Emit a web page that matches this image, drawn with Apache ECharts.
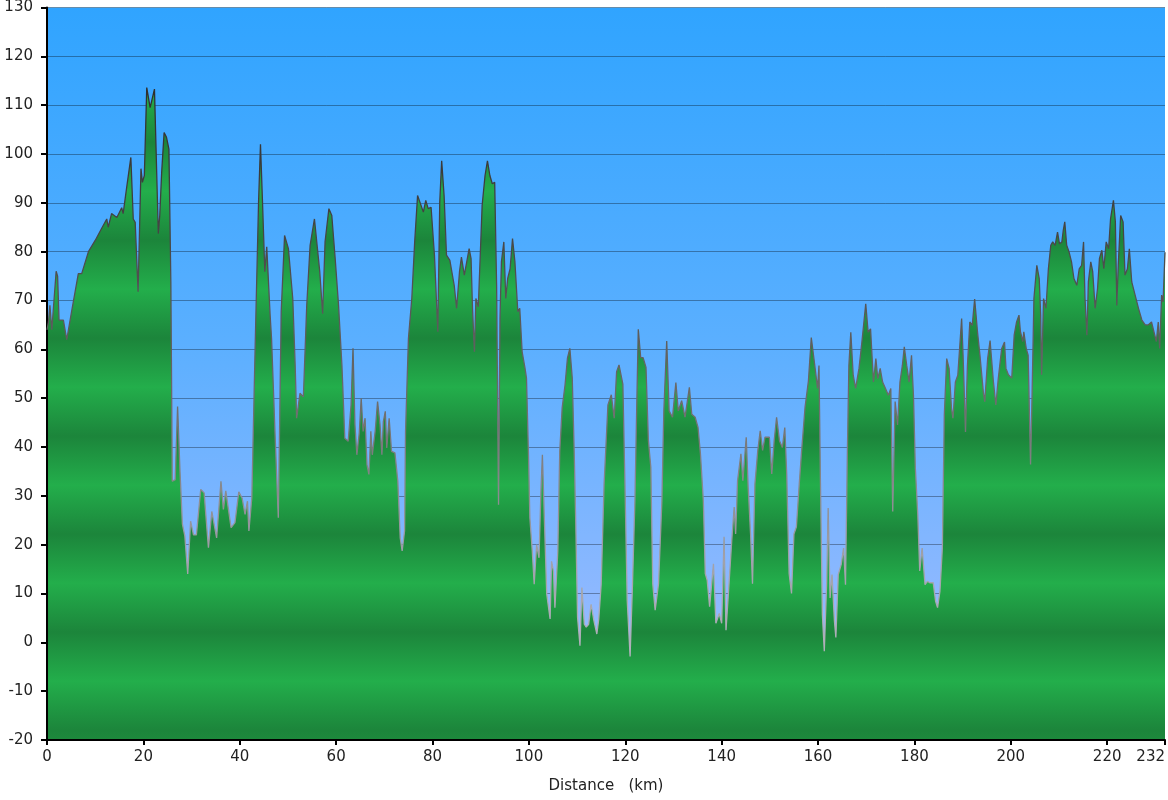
<!DOCTYPE html>
<html>
<head>
<meta charset="utf-8">
<title>Elevation profile</title>
<script src="https://cdn.jsdelivr.net/npm/echarts@6/dist/echarts.min.js"></script>
<style>
    html, body { margin: 0; padding: 0; background: #fff; }
</style>
</head>
<body>
<div id="main" style="width:1168px;height:800px;"></div>
<script>
// distance along the route (km)
var distanceKm = [
    0, 0.3, 0.6, 1.0, 1.9, 2.2, 2.5, 3.4, 4.1, 5.1, 6.5, 7.2, 8.6, 10.0, 11.3, 12.4, 12.7, 13.4, 14.5, 15.5,
    15.8, 16.5, 16.9, 17.4, 17.9, 18.3, 18.9, 19.5, 19.8, 20.2, 20.7, 21.4, 22.3, 22.6, 23.1, 23.4, 23.8, 24.3, 24.8, 25.3,
    25.7, 26.0, 26.6, 27.1, 27.6, 28.1, 28.6, 29.2, 29.8, 30.4, 31.0, 31.9, 32.6, 33.5, 34.2, 35.2, 36.1, 36.6, 37.1, 38.2,
    39.0, 39.8, 40.5, 41.1, 41.6, 41.9, 42.5, 43.2, 43.9, 44.3, 44.7, 45.2, 45.6, 45.9, 46.3, 46.6, 47.3, 48.0, 48.6, 49.3,
    50.1, 51.0, 51.5, 51.8, 52.5, 53.2, 53.9, 54.6, 55.5, 55.9, 56.6, 57.2, 57.7, 58.5, 59.1, 59.8, 60.5, 61.2, 61.8, 62.5,
    63.1, 63.5, 63.9, 64.3, 64.8, 65.2, 65.6, 66.0, 66.4, 66.8, 67.2, 67.5, 68.1, 68.6, 69.1, 69.5, 69.8, 70.2, 70.5, 71.0,
    71.5, 72.2, 72.8, 73.3, 73.7, 74.2, 74.4, 75.0, 75.7, 76.3, 76.9, 77.4, 78.1, 78.6, 79.1, 79.7, 80.4, 81.1, 81.5, 81.9,
    82.4, 82.9, 83.6, 84.5, 85.0, 85.6, 86.0, 86.6, 87.1, 87.6, 88.0, 88.3, 88.7, 89.0, 89.5, 89.9, 90.3, 90.9, 91.4, 91.9,
    92.4, 92.9, 93.3, 93.7, 94.0, 94.3, 94.8, 95.2, 95.6, 96.1, 96.6, 97.1, 97.7, 98.1, 98.6, 99.2, 99.5, 99.9, 100.2, 100.7,
    101.1, 101.6, 102.1, 102.5, 102.8, 103.2, 103.7, 104.4, 104.7, 105.1, 105.4, 106.0, 106.4, 106.9, 107.5, 108.0, 108.5, 109.0, 109.4, 109.7,
    110.1, 110.6, 111.0, 111.5, 111.9, 112.4, 112.9, 113.5, 114.1, 114.5, 115.0, 115.6, 116.1, 116.4, 117.1, 117.7, 118.2, 118.7, 119.5, 120.0,
    120.4, 121.0, 121.5, 122.0, 122.4, 122.7, 123.2, 123.7, 124.3, 124.8, 125.3, 125.7, 126.2, 126.9, 127.6, 128.0, 128.6, 129.1, 129.8, 130.5,
    131.0, 131.7, 132.4, 133.3, 133.8, 134.5, 135.1, 135.6, 136.2, 136.6, 137.0, 137.5, 138.3, 138.8, 139.5, 140.0, 140.5, 140.9, 141.4, 142.1,
    142.6, 142.9, 143.3, 144.0, 144.4, 145.1, 145.5, 146.0, 146.4, 146.9, 147.5, 148.0, 148.5, 149.0, 149.9, 150.4, 150.9, 151.4, 152.0, 152.6,
    153.1, 153.5, 154.0, 154.5, 155.0, 155.5, 156.1, 156.6, 157.3, 158.0, 158.6, 159.3, 159.9, 160.2, 160.5, 160.9, 161.3, 161.8, 162.1, 162.5,
    162.9, 163.4, 163.7, 164.2, 164.8, 165.3, 165.7, 166.1, 166.4, 166.8, 167.3, 167.8, 168.5, 169.1, 169.9, 170.4, 170.9, 171.5, 172.0, 172.4,
    172.9, 173.4, 174.0, 174.6, 175.1, 175.5, 176.0, 176.5, 177.0, 177.5, 177.9, 178.4, 178.9, 179.4, 179.8, 180.2, 180.7, 181.1, 181.6, 182.2,
    182.7, 183.2, 183.9, 184.4, 184.8, 185.3, 185.8, 186.2, 186.7, 187.2, 187.7, 188.0, 188.5, 189.0, 189.8, 190.1, 190.6, 191.0, 191.5, 192.0,
    192.5, 193.1, 193.6, 194.3, 194.6, 195.2, 195.7, 196.4, 196.9, 197.4, 198.1, 198.7, 199.0, 199.5, 200.2, 200.7, 201.2, 201.7, 202.0, 202.5,
    202.7, 203.2, 203.6, 204.1, 204.4, 204.8, 205.4, 205.9, 206.2, 206.4, 206.8, 207.3, 207.8, 208.3, 208.7, 209.2, 209.7, 210.1, 210.6, 210.9,
    211.2, 211.6, 212.1, 212.6, 213.1, 213.7, 214.2, 214.7, 215.1, 215.4, 215.8, 216.1, 216.6, 217.0, 217.5, 218.0, 218.4, 218.9, 219.3, 219.8,
    220.3, 220.7, 221.3, 221.7, 222.0, 222.3, 222.8, 223.3, 223.7, 224.2, 224.6, 225.1, 225.8, 226.5, 227.2, 227.9, 228.5, 229.2, 229.7, 230.2,
    230.6, 230.9, 231.3, 231.6, 232.0
];

// elevation (m)
var elevationM = [
    64, 65.6, 69, 64, 76, 75, 66, 66, 62, 67.7, 75.5, 75.5, 80, 82.3, 84.7, 86.7, 85, 87.8, 87, 89,
    87.8, 92.9, 92.9, 99.3, 86.7, 86, 71.8, 97, 94.2, 95.6, 113.6, 109.5, 113.3, 113.3, 83.7, 87.4, 96.3, 104.4, 103.4, 101,
    73.8, 33, 33.3, 48.3, 35, 24.2, 21.8, 14, 24.8, 22, 22, 31.3, 30.6, 19.4, 26.8, 21.4, 33, 27.2, 31, 23.5,
    24.5, 30.8, 29.5, 26.2, 28.9, 22.8, 29.6, 60.9, 90.1, 102, 90.8, 75.9, 81, 80.6, 67, 62.2, 43.2, 25.5, 67.7, 83.3,
    80.6, 70.4, 56.8, 45.9, 51, 50.3, 69, 81.3, 86.7, 86.4, 75.9, 67.3, 82, 88.8, 87.4, 78.6, 69, 56.8, 41.8, 41.2,
    48.6, 60.2, 44.6, 38.4, 42.9, 50, 43.2, 45.9, 36.4, 34.4, 43.2, 38.4, 43.2, 49.3, 44.6, 38.4, 45.2, 47.3, 39.8, 45.9,
    39.1, 38.8, 33, 21.4, 18.7, 22.8, 43.2, 62.2, 70.4, 82, 91.5, 90.1, 88.1, 90.5, 88.8, 89.1, 79.3, 63.6, 90.1, 98.6,
    91.5, 79.3, 78.2, 73.1, 68.4, 75.9, 78.9, 75.2, 77.9, 80.6, 78.6, 68.4, 59.5, 70.4, 68.7, 69, 89.5, 95.6, 98.6, 95.6,
    93.9, 94.2, 73.1, 28.2, 66.3, 77.9, 82, 70.4, 74.5, 76.5, 82.7, 77.9, 67.7, 68.4, 59.5, 56.1, 54.1, 39.1, 25.5, 18.7,
    11.9, 20, 17.3, 31, 38.4, 25.5, 9.9, 4.8, 16.6, 14.6, 7.1, 18.7, 39.1, 48, 52.7, 58.2, 60.2, 54.1, 39.1, 25.5,
    5.1, -0.7, 11.2, 3.7, 3.1, 3.7, 7.8, 4.4, 1.7, 4.8, 11.9, 32.3, 42.5, 48.6, 50.7, 45.9, 55.4, 56.8, 52.9, 29,
    8.6, -2.9, 12, 29, 49.5, 64.1, 58.3, 58.3, 56.3, 41.3, 35.9, 12, 6.6, 12, 29, 47.4, 61.7, 47.4, 46.1, 53.2,
    47.4, 49.5, 46.1, 52.2, 46.7, 46.1, 44, 38.6, 29, 14.1, 12.7, 7.3, 16.1, 3.9, 5.9, 3.9, 21.6, 2.5, 10, 20.9,
    27.7, 22.2, 33.1, 38.6, 33.1, 42, 31.8, 22.2, 12, 32.4, 39.3, 43.3, 39.3, 42, 42, 34.5, 41.3, 46.1, 41.3, 39.9,
    44, 34.5, 14.1, 10, 22.2, 23.6, 32.4, 39.3, 48.1, 53.5, 62.4, 56.9, 52, 56.7, 32.9, 5.7, -1.8, 12.5, 27.5, 9.1,
    13.9, 4.4, 1, 13.9, 15.9, 19.3, 11.8, 39.7, 56.7, 63.5, 54.7, 52, 56.1, 61.5, 69.3, 63.5, 64.2, 53.3, 58.1, 54,
    56.1, 53.3, 52, 50.6, 52, 26.8, 49.3, 44.5, 53.3, 56.7, 60.5, 56.7, 53.3, 58.8, 50.6, 35.6, 26.1, 14.6, 19.3, 11.8,
    12.5, 12.2, 12.2, 8.4, 7.1, 10.5, 19.3, 46.5, 58.1, 56.1, 47.9, 45.9, 53.3, 54.7, 66.3, 58.8, 43.1, 56.7, 65.6, 64.9,
    70.3, 63.5, 58.8, 51.3, 49.3, 58.1, 61.8, 53.3, 48.6, 54, 60.1, 61.5, 56.1, 54.8, 54.1, 62.9, 65.6, 67, 63.6, 61.6,
    63.6, 60.2, 58.8, 36.4, 50, 70.4, 77.2, 74.5, 67, 54.8, 70.4, 68.4, 76.5, 81.3, 82, 81.3, 84, 81.6, 82, 84.4,
    86.1, 81.3, 79.9, 77.9, 74.5, 73.1, 76.5, 77.2, 82, 70.4, 62.9, 73.8, 77.9, 75.9, 68.4, 72.4, 78.6, 80.3, 76.5, 82,
    80.6, 86.7, 90.5, 86.1, 69, 77.2, 87.4, 86.1, 75.2, 76.5, 80.6, 73.8, 71.1, 68.4, 66, 65, 65, 65.6, 63.6, 61.6,
    65.6, 60.2, 71.1, 69.7, 79.9
];

var xMin = 0, xMax = 232, xStep = 20;
var yMin = -20, yMax = 130, yStep = 10;

var points = [];
for (var i = 0; i < distanceKm.length; i++) {
    points.push([distanceKm[i], elevationM[i]]);
}

var gridTop = 5, gridBottom = 60;
var plotTop = gridTop, plotBottom = 800 - gridBottom;

// banded green fill, darker every 20 m
var fillStops = [];
for (var v = yMax; v >= yMin; v -= yStep) {
    var off = (yMax - (v + 2)) / (yMax - yMin);
    if (off < 0) off = 0;
    if (off > 1) off = 1;
    var dark = (((v % 20) + 20) % 20) === 0;
    fillStops.push({ offset: off, color: dark ? '#1c853b' : '#23ae4b' });
}
fillStops.push({ offset: 1, color: '#1d893c' });

var myChart = echarts.init(document.getElementById('main'));
myChart.setOption({
    animation: false,
    backgroundColor: '#fff',
    grid: {
        left: 47,
        right: 3,
        top: gridTop,
        bottom: gridBottom,
        show: true,
        borderWidth: 0,
        backgroundColor: new echarts.graphic.LinearGradient(0, 0, 0, 1, [
            { offset: 0, color: '#30a4ff' },
            { offset: 0.45, color: '#5aafff' },
            { offset: 0.8, color: '#8db8ff' },
            { offset: 1, color: '#a8c2ff' }
        ])
    },
    xAxis: {
        type: 'value',
        min: xMin,
        max: xMax,
        interval: xStep,
        z: 3,
        name: 'Distance   (km)',
        nameLocation: 'middle',
        nameGap: 39,
        nameTextStyle: { fontFamily: 'DejaVu Sans', fontSize: 15, color: '#222' },
        axisLine: { onZero: false, lineStyle: { color: '#000', width: 2 } },
        axisTick: { show: true, length: 5, lineStyle: { color: '#000', width: 2 } },
        axisLabel: {
            margin: 10,
            fontFamily: 'DejaVu Sans',
            fontSize: 15,
            color: '#222',
            showMaxLabel: true,
            alignMaxLabel: 'right'
        },
        splitLine: { show: false }
    },
    yAxis: {
        type: 'value',
        min: yMin,
        max: yMax,
        interval: yStep,
        z: 3,
        axisLine: { show: true, lineStyle: { color: '#000', width: 2 } },
        axisTick: { show: true, length: 6, lineStyle: { color: '#000', width: 2 } },
        axisLabel: { margin: 14, fontFamily: 'DejaVu Sans', fontSize: 15, color: '#222' },
        splitLine: { show: true, lineStyle: { color: 'rgba(0,0,0,0.33)', width: 1 } }
    },
    series: [{
        type: 'line',
        data: points,
        symbol: 'none',
        showSymbol: false,
        lineStyle: {
            width: 1.3,
            color: new echarts.graphic.LinearGradient(0, plotTop, 0, plotBottom, [
                { offset: 0, color: '#222' },
                { offset: 0.3, color: '#444' },
                { offset: 0.55, color: '#6e6e6e' },
                { offset: 0.75, color: '#a0a0a8' },
                { offset: 1, color: '#c0c0cc' }
            ], true)
        },
        areaStyle: {
            origin: 'start',
            opacity: 1,
            color: new echarts.graphic.LinearGradient(0, plotTop, 0, plotBottom, fillStops, true)
        }
    }]
});
</script>
</body>
</html>
